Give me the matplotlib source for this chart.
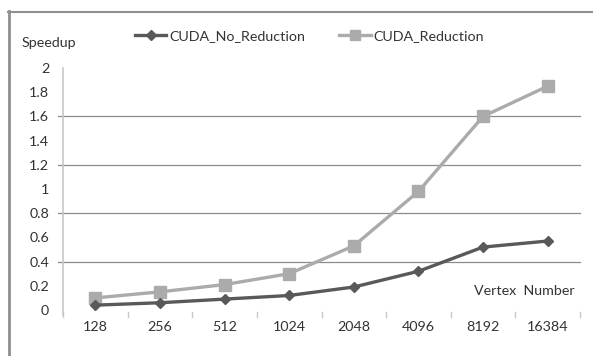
import matplotlib
matplotlib.use("Agg")
import matplotlib.pyplot as plt
from matplotlib.lines import Line2D
import numpy as np

categories = ["128", "256", "512", "1024", "2048", "4096", "8192", "16384"]
no_reduction = [0.04, 0.06, 0.09, 0.12, 0.19, 0.32, 0.52, 0.57]
reduction = [0.10, 0.15, 0.21, 0.30, 0.53, 0.98, 1.60, 1.85]
ytick_labels = ["0", "0.2", "0.4", "0.6", "0.8", "1", "1.2", "1.4", "1.6", "1.8", "2"]

plt.rcParams['font.family'] = ['Lato', 'DejaVu Sans']
txt = '#333333'
c_dark = '#595959'
c_light = '#ababab'
fs = 10.3

fig = plt.figure(figsize=(5.93, 3.56), dpi=100)
W, H = 593, 356
ax = fig.add_axes([63 / W, 1 - 310 / H, (580 - 63) / W, (310 - 68) / H])

x = np.arange(len(categories))
ax.plot(x, reduction, color=c_light, lw=2.4, marker='s', ms=8, mfc=c_light, mec=c_light, zorder=3)
ax.plot(x, no_reduction, color=c_dark, lw=2.4, marker='D', ms=5.5, mfc=c_dark, mec=c_dark, zorder=4)

ax.set_xlim(-0.5, len(categories) - 0.5)
ax.set_ylim(0, 2)
yt = np.arange(len(ytick_labels)) * 0.2
ax.set_yticks(yt)
ax.set_yticklabels(ytick_labels, color=txt, fontsize=fs)
ax.tick_params(axis='y', length=0, pad=10)
for v in [0.4, 0.8, 1.2, 1.6]:
    ax.plot([-0.58, len(categories) - 0.5], [v, v], color='#8c8c8c', lw=0.9, clip_on=False, zorder=1)

ax.set_xticks(x)
ax.set_xticklabels(categories, color=txt, fontsize=fs)
ax.tick_params(axis='x', length=0, pad=8)
for k in range(len(categories) + 1):
    ax.plot([k - 0.5, k - 0.5], [-0.015, -0.06], color='#c8c8c8', lw=1.0, clip_on=False)

for s in ['top', 'right', 'bottom']:
    ax.spines[s].set_visible(False)
ax.spines['left'].set_color('#c8c8c8')
ax.spines['left'].set_linewidth(1.2)
ax.spines['left'].set_bounds(-0.04, 2)

ax.text(0.99, 0.08, "Vertex  Number", transform=ax.transAxes, ha='right', va='center', color=txt, fontsize=fs)
fig.text(22 / W, 1 - 43 / H, "Speedup", ha='left', va='center', color=txt, fontsize=fs)

handles = [Line2D([], [], color=c_dark, lw=2.4, marker='D', ms=5, mfc=c_dark, mec=c_dark),
           Line2D([], [], color=c_light, lw=2.4, marker='s', ms=7, mfc=c_light, mec=c_light)]
fig.legend(handles, ["CUDA_No_Reduction", "CUDA_Reduction"], loc='center left',
           bbox_to_anchor=(122 / W, 1 - 36 / H), ncol=2, frameon=False, fontsize=fs,
           handlelength=2.2, handletextpad=0.2, columnspacing=2.4, labelcolor=txt)

# outer frame (left and top edges)
fig.add_artist(Line2D([9 / W, 9 / W], [0, 1 - 11 / H], color='#8f8f8f', lw=2.0, transform=fig.transFigure))
fig.add_artist(Line2D([8 / W, 1], [1 - 11.5 / H, 1 - 11.5 / H], color='#8f8f8f', lw=1.5, transform=fig.transFigure))

fig.savefig("out.png", dpi=100)
